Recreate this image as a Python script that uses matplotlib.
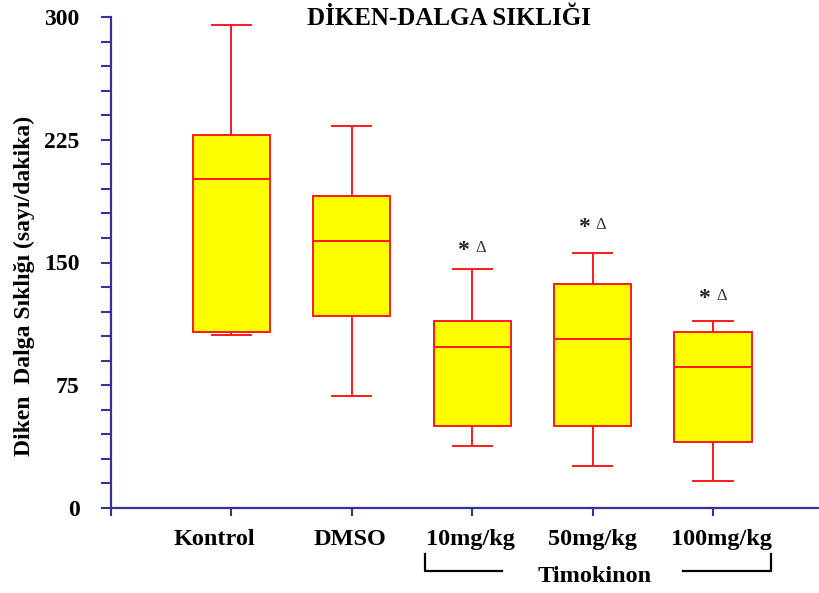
import matplotlib
matplotlib.use("Agg")
import matplotlib.pyplot as plt
from matplotlib.ticker import MultipleLocator
import matplotlib.transforms as mtransforms

plt.rcParams['font.family'] = ['Liberation Serif', 'DejaVu Serif']
plt.rcParams['font.weight'] = 'bold'

# ---- data ----
categories = ["Kontrol", "DMSO", "10mg/kg", "50mg/kg", "100mg/kg"]
whislo = [105.7, 68.6, 37.9, 25.7, 16.5]
q1 = [107.3, 117.1, 50.1, 50.1, 40.1]
med = [201.0, 163.0, 98.4, 103.2, 86.1]
q3 = [228.0, 190.6, 114.2, 136.7, 107.7]
whishi = [295.0, 233.5, 145.8, 155.6, 114.4]
sig_groups = ["10mg/kg", "50mg/kg", "100mg/kg"]
sig_heights = [158.8, 172.9, 129.5]
y_major = [0, 75, 150, 225, 300]
title = "DİKEN-DALGA SIKLIĞI"
ylabel = "Diken  Dalga Sıklığı (sayı/dakika)"
group_label = "Timokinon"

axis_color = "#333399"
box_red = "#FF1A1A"
label_shift_pt = [-12, -1.5, -1, 0, 6]   # small horizontal shifts of category labels

fig = plt.figure(figsize=(8.2, 5.93), dpi=100)
ax = fig.add_axes([111/820, 85/593, 709/820, 491/593])

positions = list(range(1, len(categories) + 1))
stats = []
for i, c in enumerate(categories):
    stats.append(dict(label=c, whislo=whislo[i], q1=q1[i], med=med[i],
                      q3=q3[i], whishi=whishi[i], fliers=[]))

lw = 1.4
ax.bxp(stats, positions=positions, widths=0.64, capwidths=0.324,
       patch_artist=True, showfliers=False,
       boxprops=dict(facecolor="#FFFF00", edgecolor=box_red, linewidth=lw),
       medianprops=dict(color=box_red, linewidth=lw),
       whiskerprops=dict(color=box_red, linewidth=lw),
       capprops=dict(color=box_red, linewidth=lw))

ax.set_xlim(0, 709/120.4)
ax.set_ylim(0, 300)

# spines
for s in ["top", "right"]:
    ax.spines[s].set_visible(False)
for s in ["left", "bottom"]:
    ax.spines[s].set_color(axis_color)
    ax.spines[s].set_linewidth(1.6)

# y ticks
ax.yaxis.set_minor_locator(MultipleLocator(15))
ax.set_yticks(y_major)
ax.set_yticklabels([str(v) for v in y_major], fontsize=17, fontweight='bold')
ax.tick_params(axis='y', which='both', direction='out', length=7.5, width=1.5,
               color=axis_color, pad=15)

# x ticks
ax.set_xticks([0] + positions)
ax.set_xticklabels([""] + categories, fontsize=17.5, fontweight='bold')
ax.tick_params(axis='x', which='both', direction='out', length=6, width=1.5,
               color=axis_color, pad=9)
for lab, dx in zip(ax.get_xticklabels()[1:], label_shift_pt):
    lab.set_transform(lab.get_transform() +
                      mtransforms.ScaledTranslation(dx / 72, 0, fig.dpi_scale_trans))

# significance markers
for g, h in zip(sig_groups, sig_heights):
    x = positions[categories.index(g)]
    ax.annotate("*", xy=(x, h), xytext=(-6.5, -2), textcoords="offset points",
                ha="center", va="center", fontsize=17, fontweight="bold", color="#222222")
    ax.annotate("Δ", xy=(x, h), xytext=(6, 0), textcoords="offset points",
                ha="center", va="center", fontsize=12, fontweight="normal", color="#333333")

# Timokinon bracket
trans = mtransforms.blended_transform_factory(ax.transData, ax.transAxes)
x_first = positions[categories.index("10mg/kg")]
x_last = positions[categories.index("100mg/kg")]
y_top, y_bot = -0.094, -0.128
ax.plot([x_first - 0.39, x_first - 0.39, x_first + 0.25], [y_top, y_bot, y_bot],
        color="black", lw=1.6, transform=trans, clip_on=False)
ax.plot([x_last - 0.25, x_last + 0.485, x_last + 0.485], [y_bot, y_bot, y_top],
        color="black", lw=1.6, transform=trans, clip_on=False)
ax.text((x_first + x_last) / 2 + 0.02, -0.14, group_label, transform=trans,
        ha="center", va="center", fontsize=17.5, fontweight="bold")

# title and y label
fig.text(449/820, 1 - 25/593, title, ha="center", va="baseline",
         fontsize=18, fontweight="bold")
fig.text(24/820, 1 - 286/593, ylabel, rotation=90, ha="center", va="center",
         fontsize=17, fontweight="bold")

fig.savefig("out.png", dpi=100)
